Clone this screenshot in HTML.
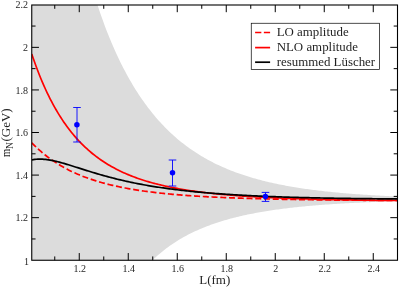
<!DOCTYPE html>
<html><head><meta charset="utf-8"><title>plot</title>
<style>
html,body{margin:0;padding:0;background:#fff}
svg{display:block}
text{font-family:"Liberation Serif",serif;fill:#000}
.t text{font-size:10px}
</style></head><body>
<svg width="399" height="287" viewBox="0 0 399 287">
<rect width="399" height="287" fill="#fff"/>
<defs><clipPath id="c"><rect x="31.75" y="5.0" width="365.75" height="255.25"/></clipPath></defs>
<g clip-path="url(#c)">
<path d="M31.75,-37.81 L33.28,-37.81 L34.81,-37.81 L36.34,-37.81 L37.87,-37.81 L39.40,-37.81 L40.93,-37.81 L42.46,-37.81 L43.99,-37.81 L45.52,-37.81 L47.05,-37.81 L48.58,-37.81 L50.11,-37.81 L51.64,-37.81 L53.17,-37.81 L54.71,-37.81 L56.24,-37.81 L57.77,-37.81 L59.30,-37.81 L60.83,-37.81 L62.36,-37.81 L63.89,-37.81 L65.42,-37.81 L66.95,-37.81 L68.48,-37.81 L70.01,-37.81 L71.54,-37.81 L73.07,-37.81 L74.60,-37.81 L76.13,-37.81 L77.66,-37.81 L79.19,-37.81 L80.72,-37.81 L82.25,-37.81 L83.78,-37.81 L85.31,-37.81 L86.84,-32.74 L88.37,-26.67 L89.90,-20.86 L91.43,-15.28 L92.96,-9.92 L94.49,-4.75 L96.02,0.23 L97.55,5.05 L99.08,9.70 L100.62,14.21 L102.15,18.58 L103.68,22.82 L105.21,26.93 L106.74,30.93 L108.27,34.81 L109.80,38.59 L111.33,42.27 L112.86,45.85 L114.39,49.33 L115.92,52.72 L117.45,56.03 L118.98,59.25 L120.51,62.40 L122.04,65.46 L123.57,68.45 L125.10,71.37 L126.63,74.21 L128.16,76.99 L129.69,79.70 L131.22,82.34 L132.75,84.92 L134.28,87.44 L135.81,89.90 L137.34,92.31 L138.87,94.65 L140.40,96.94 L141.93,99.18 L143.46,101.37 L144.99,103.50 L146.53,105.59 L148.06,107.63 L149.59,109.62 L151.12,111.56 L152.65,113.46 L154.18,115.32 L155.71,117.13 L157.24,118.91 L158.77,120.64 L160.30,122.33 L161.83,123.99 L163.36,125.61 L164.89,127.19 L166.42,128.73 L167.95,130.25 L169.48,131.72 L171.01,133.17 L172.54,134.58 L174.07,135.96 L175.60,137.31 L177.13,138.63 L178.66,139.92 L180.19,141.18 L181.72,142.41 L183.25,143.62 L184.78,144.80 L186.31,145.95 L187.84,147.08 L189.37,148.18 L190.90,149.26 L192.44,150.32 L193.97,151.35 L195.50,152.36 L197.03,153.35 L198.56,154.31 L200.09,155.26 L201.62,156.18 L203.15,157.08 L204.68,157.97 L206.21,158.83 L207.74,159.68 L209.27,160.51 L210.80,161.32 L212.33,162.11 L213.86,162.89 L215.39,163.65 L216.92,164.39 L218.45,165.12 L219.98,165.83 L221.51,166.53 L223.04,167.21 L224.57,167.87 L226.10,168.53 L227.63,169.17 L229.16,169.79 L230.69,170.40 L232.22,171.00 L233.75,171.59 L235.28,172.16 L236.81,172.72 L238.35,173.27 L239.88,173.81 L241.41,174.34 L242.94,174.85 L244.47,175.36 L246.00,175.85 L247.53,176.34 L249.06,176.81 L250.59,177.27 L252.12,177.73 L253.65,178.17 L255.18,178.61 L256.71,179.04 L258.24,179.45 L259.77,179.86 L261.30,180.26 L262.83,180.65 L264.36,181.04 L265.89,181.41 L267.42,181.78 L268.95,182.14 L270.48,182.50 L272.01,182.84 L273.54,183.18 L275.07,183.51 L276.60,183.84 L278.13,184.16 L279.66,184.47 L281.19,184.77 L282.72,185.07 L284.26,185.36 L285.79,185.65 L287.32,185.93 L288.85,186.21 L290.38,186.48 L291.91,186.74 L293.44,187.00 L294.97,187.25 L296.50,187.50 L298.03,187.75 L299.56,187.99 L301.09,188.22 L302.62,188.45 L304.15,188.67 L305.68,188.89 L307.21,189.11 L308.74,189.32 L310.27,189.53 L311.80,189.73 L313.33,189.93 L314.86,190.12 L316.39,190.31 L317.92,190.50 L319.45,190.68 L320.98,190.86 L322.51,191.04 L324.04,191.21 L325.57,191.38 L327.10,191.54 L328.63,191.71 L330.17,191.87 L331.70,192.02 L333.23,192.17 L334.76,192.32 L336.29,192.47 L337.82,192.61 L339.35,192.76 L340.88,192.89 L342.41,193.03 L343.94,193.16 L345.47,193.29 L347.00,193.42 L348.53,193.54 L350.06,193.67 L351.59,193.79 L353.12,193.91 L354.65,194.02 L356.18,194.13 L357.71,194.25 L359.24,194.35 L360.77,194.46 L362.30,194.57 L363.83,194.67 L365.36,194.77 L366.89,194.87 L368.42,194.96 L369.95,195.06 L371.48,195.15 L373.01,195.24 L374.54,195.33 L376.08,195.42 L377.61,195.51 L379.14,195.59 L380.67,195.67 L382.20,195.75 L383.73,195.83 L385.26,195.91 L386.79,195.99 L388.32,196.06 L389.85,196.14 L391.38,196.21 L392.91,196.28 L394.44,196.35 L395.97,196.42 L397.50,196.48 L397.50,201.23 L395.97,201.27 L394.44,201.32 L392.91,201.36 L391.38,201.41 L389.85,201.46 L388.32,201.50 L386.79,201.55 L385.26,201.60 L383.73,201.65 L382.20,201.71 L380.67,201.76 L379.14,201.81 L377.61,201.87 L376.08,201.92 L374.54,201.98 L373.01,202.04 L371.48,202.10 L369.95,202.16 L368.42,202.23 L366.89,202.29 L365.36,202.35 L363.83,202.42 L362.30,202.49 L360.77,202.56 L359.24,202.63 L357.71,202.70 L356.18,202.77 L354.65,202.85 L353.12,202.92 L351.59,203.00 L350.06,203.08 L348.53,203.16 L347.00,203.25 L345.47,203.33 L343.94,203.42 L342.41,203.51 L340.88,203.60 L339.35,203.69 L337.82,203.78 L336.29,203.88 L334.76,203.97 L333.23,204.07 L331.70,204.17 L330.17,204.28 L328.63,204.38 L327.10,204.49 L325.57,204.60 L324.04,204.71 L322.51,204.83 L320.98,204.95 L319.45,205.06 L317.92,205.19 L316.39,205.31 L314.86,205.44 L313.33,205.57 L311.80,205.70 L310.27,205.83 L308.74,205.97 L307.21,206.11 L305.68,206.25 L304.15,206.40 L302.62,206.55 L301.09,206.70 L299.56,206.86 L298.03,207.02 L296.50,207.18 L294.97,207.34 L293.44,207.51 L291.91,207.68 L290.38,207.86 L288.85,208.04 L287.32,208.22 L285.79,208.41 L284.26,208.60 L282.72,208.79 L281.19,208.99 L279.66,209.20 L278.13,209.40 L276.60,209.62 L275.07,209.83 L273.54,210.05 L272.01,210.28 L270.48,210.51 L268.95,210.74 L267.42,210.98 L265.89,211.23 L264.36,211.48 L262.83,211.74 L261.30,212.00 L259.77,212.26 L258.24,212.54 L256.71,212.82 L255.18,213.10 L253.65,213.39 L252.12,213.69 L250.59,213.99 L249.06,214.30 L247.53,214.62 L246.00,214.95 L244.47,215.28 L242.94,215.62 L241.41,215.96 L239.88,216.32 L238.35,216.68 L236.81,217.05 L235.28,217.43 L233.75,217.82 L232.22,218.22 L230.69,218.62 L229.16,219.04 L227.63,219.46 L226.10,219.89 L224.57,220.34 L223.04,220.79 L221.51,221.26 L219.98,221.73 L218.45,222.22 L216.92,222.72 L215.39,223.23 L213.86,223.75 L212.33,224.28 L210.80,224.83 L209.27,225.39 L207.74,225.97 L206.21,226.55 L204.68,227.16 L203.15,227.77 L201.62,228.41 L200.09,229.05 L198.56,229.72 L197.03,230.40 L195.50,231.09 L193.97,231.81 L192.44,232.54 L190.90,233.29 L189.37,234.06 L187.84,234.85 L186.31,235.66 L184.78,236.49 L183.25,237.34 L181.72,238.22 L180.19,239.11 L178.66,240.03 L177.13,240.98 L175.60,241.94 L174.07,242.94 L172.54,243.96 L171.01,245.01 L169.48,246.08 L167.95,247.19 L166.42,248.32 L164.89,249.49 L163.36,250.68 L161.83,251.91 L160.30,253.18 L158.77,254.48 L157.24,255.81 L155.71,257.18 L154.18,258.59 L152.65,260.04 L151.12,261.53 L149.59,263.06 L148.06,264.64 L146.53,266.26 L144.99,267.93 L143.46,269.64 L141.93,271.41 L140.40,273.22 L138.87,275.09 L137.34,277.01 L135.81,278.99 L134.28,281.03 L132.75,281.54 L131.22,281.54 L129.69,281.54 L128.16,281.54 L126.63,281.54 L125.10,281.54 L123.57,281.54 L122.04,281.54 L120.51,281.54 L118.98,281.54 L117.45,281.54 L115.92,281.54 L114.39,281.54 L112.86,281.54 L111.33,281.54 L109.80,281.54 L108.27,281.54 L106.74,281.54 L105.21,281.54 L103.68,281.54 L102.15,281.54 L100.62,281.54 L99.08,281.54 L97.55,281.54 L96.02,281.54 L94.49,281.54 L92.96,281.54 L91.43,281.54 L89.90,281.54 L88.37,281.54 L86.84,281.54 L85.31,281.54 L83.78,281.54 L82.25,281.54 L80.72,281.54 L79.19,281.54 L77.66,281.54 L76.13,281.54 L74.60,281.54 L73.07,281.54 L71.54,281.54 L70.01,281.54 L68.48,281.54 L66.95,281.54 L65.42,281.54 L63.89,281.54 L62.36,281.54 L60.83,281.54 L59.30,281.54 L57.77,281.54 L56.24,281.54 L54.71,281.54 L53.17,281.54 L51.64,281.54 L50.11,281.54 L48.58,281.54 L47.05,281.54 L45.52,281.54 L43.99,281.54 L42.46,281.54 L40.93,281.54 L39.40,281.54 L37.87,281.54 L36.34,281.54 L34.81,281.54 L33.28,281.54 L31.75,281.54Z" fill="#dcdcdc"/>
<path d="M31.75,142.75 L33.28,144.32 L34.81,145.84 L36.34,147.32 L37.87,148.75 L39.40,150.13 L40.93,151.48 L42.46,152.78 L43.99,154.04 L45.52,155.27 L47.05,156.46 L48.58,157.61 L50.11,158.73 L51.64,159.82 L53.17,160.88 L54.71,161.90 L56.24,162.89 L57.77,163.86 L59.30,164.80 L60.83,165.71 L62.36,166.60 L63.89,167.46 L65.42,168.29 L66.95,169.10 L68.48,169.89 L70.01,170.66 L71.54,171.40 L73.07,172.13 L74.60,172.83 L76.13,173.52 L77.66,174.18 L79.19,174.83 L80.72,175.46 L82.25,176.08 L83.78,176.67 L85.31,177.25 L86.84,177.82 L88.37,178.37 L89.90,178.90 L91.43,179.42 L92.96,179.93 L94.49,180.42 L96.02,180.90 L97.55,181.37 L99.08,181.82 L100.62,182.27 L102.15,182.70 L103.68,183.12 L105.21,183.53 L106.74,183.93 L108.27,184.32 L109.80,184.70 L111.33,185.07 L112.86,185.43 L114.39,185.78 L115.92,186.12 L117.45,186.45 L118.98,186.78 L120.51,187.09 L122.04,187.40 L123.57,187.70 L125.10,188.00 L126.63,188.28 L128.16,188.56 L129.69,188.84 L131.22,189.10 L132.75,189.36 L134.28,189.61 L135.81,189.86 L137.34,190.10 L138.87,190.34 L140.40,190.57 L141.93,190.79 L143.46,191.01 L144.99,191.22 L146.53,191.43 L148.06,191.63 L149.59,191.83 L151.12,192.02 L152.65,192.21 L154.18,192.40 L155.71,192.58 L157.24,192.75 L158.77,192.93 L160.30,193.09 L161.83,193.26 L163.36,193.42 L164.89,193.57 L166.42,193.73 L167.95,193.88 L169.48,194.02 L171.01,194.17 L172.54,194.30 L174.07,194.44 L175.60,194.57 L177.13,194.70 L178.66,194.83 L180.19,194.96 L181.72,195.08 L183.25,195.20 L184.78,195.31 L186.31,195.43 L187.84,195.54 L189.37,195.65 L190.90,195.75 L192.44,195.86 L193.97,195.96 L195.50,196.06 L197.03,196.15 L198.56,196.25 L200.09,196.34 L201.62,196.43 L203.15,196.52 L204.68,196.61 L206.21,196.69 L207.74,196.78 L209.27,196.86 L210.80,196.94 L212.33,197.01 L213.86,197.09 L215.39,197.17 L216.92,197.24 L218.45,197.31 L219.98,197.38 L221.51,197.45 L223.04,197.52 L224.57,197.58 L226.10,197.65 L227.63,197.71 L229.16,197.77 L230.69,197.83 L232.22,197.89 L233.75,197.95 L235.28,198.00 L236.81,198.06 L238.35,198.11 L239.88,198.17 L241.41,198.22 L242.94,198.27 L244.47,198.32 L246.00,198.37 L247.53,198.42 L249.06,198.46 L250.59,198.51 L252.12,198.55 L253.65,198.60 L255.18,198.64 L256.71,198.68 L258.24,198.73 L259.77,198.77 L261.30,198.81 L262.83,198.85 L264.36,198.88 L265.89,198.92 L267.42,198.96 L268.95,198.99 L270.48,199.03 L272.01,199.06 L273.54,199.10 L275.07,199.13 L276.60,199.16 L278.13,199.20 L279.66,199.23 L281.19,199.26 L282.72,199.29 L284.26,199.32 L285.79,199.35 L287.32,199.37 L288.85,199.40 L290.38,199.43 L291.91,199.46 L293.44,199.48 L294.97,199.51 L296.50,199.53 L298.03,199.56 L299.56,199.58 L301.09,199.61 L302.62,199.63 L304.15,199.65 L305.68,199.67 L307.21,199.70 L308.74,199.72 L310.27,199.74 L311.80,199.76 L313.33,199.78 L314.86,199.80 L316.39,199.82 L317.92,199.84 L319.45,199.86 L320.98,199.88 L322.51,199.89 L324.04,199.91 L325.57,199.93 L327.10,199.95 L328.63,199.96 L330.17,199.98 L331.70,200.00 L333.23,200.01 L334.76,200.03 L336.29,200.04 L337.82,200.06 L339.35,200.07 L340.88,200.09 L342.41,200.10 L343.94,200.12 L345.47,200.13 L347.00,200.14 L348.53,200.16 L350.06,200.17 L351.59,200.18 L353.12,200.19 L354.65,200.21 L356.18,200.22 L357.71,200.23 L359.24,200.24 L360.77,200.25 L362.30,200.26 L363.83,200.28 L365.36,200.29 L366.89,200.30 L368.42,200.31 L369.95,200.32 L371.48,200.33 L373.01,200.34 L374.54,200.35 L376.08,200.36 L377.61,200.37 L379.14,200.38 L380.67,200.38 L382.20,200.39 L383.73,200.40 L385.26,200.41 L386.79,200.42 L388.32,200.43 L389.85,200.43 L391.38,200.44 L392.91,200.45 L394.44,200.46 L395.97,200.47 L397.50,200.47" fill="none" stroke="#f00" stroke-width="1.7" stroke-dasharray="6 2.75"/>
<path d="M31.75,53.95 L33.28,58.46 L34.81,62.80 L36.34,67.00 L37.87,71.04 L39.40,74.95 L40.93,78.72 L42.46,82.36 L43.99,85.87 L45.52,89.27 L47.05,92.54 L48.58,95.71 L50.11,98.77 L51.64,101.73 L53.17,104.59 L54.71,107.36 L56.24,110.03 L57.77,112.62 L59.30,115.12 L60.83,117.54 L62.36,119.88 L63.89,122.15 L65.42,124.34 L66.95,126.47 L68.48,128.52 L70.01,130.52 L71.54,132.45 L73.07,134.31 L74.60,136.12 L76.13,137.88 L77.66,139.58 L79.19,141.22 L80.72,142.82 L82.25,144.37 L83.78,145.87 L85.31,147.33 L86.84,148.74 L88.37,150.11 L89.90,151.44 L91.43,152.73 L92.96,153.98 L94.49,155.19 L96.02,156.37 L97.55,157.51 L99.08,158.62 L100.62,159.70 L102.15,160.75 L103.68,161.77 L105.21,162.76 L106.74,163.72 L108.27,164.65 L109.80,165.55 L111.33,166.43 L112.86,167.29 L114.39,168.12 L115.92,168.93 L117.45,169.72 L118.98,170.48 L120.51,171.23 L122.04,171.95 L123.57,172.65 L125.10,173.34 L126.63,174.00 L128.16,174.65 L129.69,175.28 L131.22,175.89 L132.75,176.49 L134.28,177.07 L135.81,177.64 L137.34,178.19 L138.87,178.72 L140.40,179.25 L141.93,179.76 L143.46,180.25 L144.99,180.73 L146.53,181.20 L148.06,181.66 L149.59,182.11 L151.12,182.54 L152.65,182.96 L154.18,183.38 L155.71,183.78 L157.24,184.17 L158.77,184.55 L160.30,184.93 L161.83,185.29 L163.36,185.64 L164.89,185.99 L166.42,186.33 L167.95,186.65 L169.48,186.97 L171.01,187.29 L172.54,187.59 L174.07,187.89 L175.60,188.18 L177.13,188.46 L178.66,188.74 L180.19,189.01 L181.72,189.27 L183.25,189.53 L184.78,189.78 L186.31,190.02 L187.84,190.26 L189.37,190.50 L190.90,190.73 L192.44,190.95 L193.97,191.17 L195.50,191.38 L197.03,191.58 L198.56,191.79 L200.09,191.99 L201.62,192.18 L203.15,192.37 L204.68,192.55 L206.21,192.73 L207.74,192.91 L209.27,193.08 L210.80,193.25 L212.33,193.41 L213.86,193.57 L215.39,193.73 L216.92,193.88 L218.45,194.04 L219.98,194.18 L221.51,194.33 L223.04,194.47 L224.57,194.60 L226.10,194.74 L227.63,194.87 L229.16,195.00 L230.69,195.12 L232.22,195.25 L233.75,195.37 L235.28,195.48 L236.81,195.60 L238.35,195.71 L239.88,195.82 L241.41,195.93 L242.94,196.03 L244.47,196.14 L246.00,196.24 L247.53,196.34 L249.06,196.44 L250.59,196.53 L252.12,196.62 L253.65,196.71 L255.18,196.80 L256.71,196.89 L258.24,196.97 L259.77,197.06 L261.30,197.14 L262.83,197.22 L264.36,197.30 L265.89,197.38 L267.42,197.45 L268.95,197.52 L270.48,197.60 L272.01,197.67 L273.54,197.74 L275.07,197.80 L276.60,197.87 L278.13,197.94 L279.66,198.00 L281.19,198.06 L282.72,198.12 L284.26,198.18 L285.79,198.24 L287.32,198.30 L288.85,198.36 L290.38,198.41 L291.91,198.47 L293.44,198.52 L294.97,198.57 L296.50,198.62 L298.03,198.67 L299.56,198.72 L301.09,198.77 L302.62,198.82 L304.15,198.86 L305.68,198.91 L307.21,198.95 L308.74,199.00 L310.27,199.04 L311.80,199.08 L313.33,199.12 L314.86,199.16 L316.39,199.20 L317.92,199.24 L319.45,199.28 L320.98,199.32 L322.51,199.36 L324.04,199.39 L325.57,199.43 L327.10,199.46 L328.63,199.50 L330.17,199.53 L331.70,199.56 L333.23,199.59 L334.76,199.63 L336.29,199.66 L337.82,199.69 L339.35,199.72 L340.88,199.75 L342.41,199.78 L343.94,199.80 L345.47,199.83 L347.00,199.86 L348.53,199.89 L350.06,199.91 L351.59,199.94 L353.12,199.96 L354.65,199.99 L356.18,200.01 L357.71,200.04 L359.24,200.06 L360.77,200.08 L362.30,200.11 L363.83,200.13 L365.36,200.15 L366.89,200.17 L368.42,200.19 L369.95,200.21 L371.48,200.23 L373.01,200.25 L374.54,200.27 L376.08,200.29 L377.61,200.31 L379.14,200.33 L380.67,200.35 L382.20,200.37 L383.73,200.38 L385.26,200.40 L386.79,200.42 L388.32,200.44 L389.85,200.45 L391.38,200.47 L392.91,200.48 L394.44,200.50 L395.97,200.52 L397.50,200.53" fill="none" stroke="#f00" stroke-width="1.7"/>
<path d="M31.75,159.99 L33.28,159.67 L34.81,159.43 L36.34,159.26 L37.87,159.15 L39.40,159.10 L40.93,159.11 L42.46,159.17 L43.99,159.28 L45.52,159.43 L47.05,159.62 L48.58,159.84 L50.11,160.10 L51.64,160.39 L53.17,160.70 L54.71,161.04 L56.24,161.40 L57.77,161.77 L59.30,162.17 L60.83,162.58 L62.36,163.01 L63.89,163.44 L65.42,163.89 L66.95,164.35 L68.48,164.81 L70.01,165.28 L71.54,165.75 L73.07,166.23 L74.60,166.71 L76.13,167.20 L77.66,167.68 L79.19,168.17 L80.72,168.65 L82.25,169.14 L83.78,169.62 L85.31,170.10 L86.84,170.58 L88.37,171.06 L89.90,171.53 L91.43,172.00 L92.96,172.46 L94.49,172.92 L96.02,173.38 L97.55,173.83 L99.08,174.28 L100.62,174.72 L102.15,175.15 L103.68,175.58 L105.21,176.01 L106.74,176.43 L108.27,176.84 L109.80,177.25 L111.33,177.65 L112.86,178.05 L114.39,178.44 L115.92,178.82 L117.45,179.20 L118.98,179.57 L120.51,179.93 L122.04,180.29 L123.57,180.65 L125.10,181.00 L126.63,181.34 L128.16,181.67 L129.69,182.01 L131.22,182.33 L132.75,182.65 L134.28,182.96 L135.81,183.27 L137.34,183.57 L138.87,183.87 L140.40,184.16 L141.93,184.45 L143.46,184.73 L144.99,185.01 L146.53,185.28 L148.06,185.55 L149.59,185.81 L151.12,186.07 L152.65,186.32 L154.18,186.57 L155.71,186.81 L157.24,187.05 L158.77,187.28 L160.30,187.51 L161.83,187.74 L163.36,187.96 L164.89,188.18 L166.42,188.39 L167.95,188.60 L169.48,188.81 L171.01,189.01 L172.54,189.21 L174.07,189.40 L175.60,189.60 L177.13,189.78 L178.66,189.97 L180.19,190.15 L181.72,190.33 L183.25,190.50 L184.78,190.67 L186.31,190.84 L187.84,191.00 L189.37,191.16 L190.90,191.32 L192.44,191.48 L193.97,191.63 L195.50,191.78 L197.03,191.93 L198.56,192.07 L200.09,192.21 L201.62,192.35 L203.15,192.49 L204.68,192.62 L206.21,192.76 L207.74,192.88 L209.27,193.01 L210.80,193.14 L212.33,193.26 L213.86,193.38 L215.39,193.50 L216.92,193.61 L218.45,193.72 L219.98,193.84 L221.51,193.95 L223.04,194.05 L224.57,194.16 L226.10,194.26 L227.63,194.36 L229.16,194.46 L230.69,194.56 L232.22,194.66 L233.75,194.75 L235.28,194.84 L236.81,194.93 L238.35,195.02 L239.88,195.11 L241.41,195.19 L242.94,195.28 L244.47,195.36 L246.00,195.44 L247.53,195.52 L249.06,195.60 L250.59,195.68 L252.12,195.75 L253.65,195.82 L255.18,195.90 L256.71,195.97 L258.24,196.04 L259.77,196.10 L261.30,196.17 L262.83,196.24 L264.36,196.30 L265.89,196.36 L267.42,196.43 L268.95,196.49 L270.48,196.55 L272.01,196.61 L273.54,196.66 L275.07,196.72 L276.60,196.77 L278.13,196.83 L279.66,196.88 L281.19,196.93 L282.72,196.99 L284.26,197.04 L285.79,197.08 L287.32,197.13 L288.85,197.18 L290.38,197.23 L291.91,197.27 L293.44,197.32 L294.97,197.36 L296.50,197.40 L298.03,197.45 L299.56,197.49 L301.09,197.53 L302.62,197.57 L304.15,197.61 L305.68,197.64 L307.21,197.68 L308.74,197.72 L310.27,197.75 L311.80,197.79 L313.33,197.82 L314.86,197.86 L316.39,197.89 L317.92,197.92 L319.45,197.95 L320.98,197.98 L322.51,198.01 L324.04,198.04 L325.57,198.07 L327.10,198.10 L328.63,198.13 L330.17,198.16 L331.70,198.18 L333.23,198.21 L334.76,198.24 L336.29,198.26 L337.82,198.29 L339.35,198.31 L340.88,198.34 L342.41,198.36 L343.94,198.38 L345.47,198.40 L347.00,198.43 L348.53,198.45 L350.06,198.47 L351.59,198.49 L353.12,198.51 L354.65,198.53 L356.18,198.55 L357.71,198.57 L359.24,198.58 L360.77,198.60 L362.30,198.62 L363.83,198.64 L365.36,198.65 L366.89,198.67 L368.42,198.69 L369.95,198.70 L371.48,198.72 L373.01,198.73 L374.54,198.75 L376.08,198.76 L377.61,198.78 L379.14,198.79 L380.67,198.80 L382.20,198.82 L383.73,198.83 L385.26,198.84 L386.79,198.86 L388.32,198.87 L389.85,198.88 L391.38,198.89 L392.91,198.90 L394.44,198.91 L395.97,198.93 L397.50,198.94" fill="none" stroke="#000" stroke-width="1.7"/>
<path d="M77.00,107.50 V142.00 M73.20,107.50 h7.6 M73.20,142.00 h7.6" stroke="#00f" stroke-width="0.9" fill="none"/><circle cx="76.90" cy="124.75" r="2.75" fill="#00f"/><path d="M172.50,160.00 V186.00 M168.70,160.00 h7.6 M168.70,186.00 h7.6" stroke="#00f" stroke-width="0.9" fill="none"/><circle cx="172.50" cy="172.75" r="2.75" fill="#00f"/><path d="M265.50,192.40 V201.40 M261.70,192.40 h7.6 M261.70,201.40 h7.6" stroke="#00f" stroke-width="0.9" fill="none"/><circle cx="265.40" cy="196.50" r="2.75" fill="#00f"/>
</g>
<path d="M54.75,260.25 v-3.8 M54.75,5.0 v3.8 M79.25,260.25 v-7.2 M79.25,5.0 v7.2 M103.75,260.25 v-3.8 M103.75,5.0 v3.8 M128.25,260.25 v-7.2 M128.25,5.0 v7.2 M152.75,260.25 v-3.8 M152.75,5.0 v3.8 M177.25,260.25 v-7.2 M177.25,5.0 v7.2 M201.75,260.25 v-3.8 M201.75,5.0 v3.8 M226.25,260.25 v-7.2 M226.25,5.0 v7.2 M250.75,260.25 v-3.8 M250.75,5.0 v3.8 M275.25,260.25 v-7.2 M275.25,5.0 v7.2 M299.75,260.25 v-3.8 M299.75,5.0 v3.8 M324.25,260.25 v-7.2 M324.25,5.0 v7.2 M348.75,260.25 v-3.8 M348.75,5.0 v3.8 M373.25,260.25 v-7.2 M373.25,5.0 v7.2 M31.75,238.96 h3.8 M397.5,238.96 h-3.8 M31.75,217.67 h7.2 M397.5,217.67 h-7.2 M31.75,196.38 h3.8 M397.5,196.38 h-3.8 M31.75,175.09 h7.2 M397.5,175.09 h-7.2 M31.75,153.80 h3.8 M397.5,153.80 h-3.8 M31.75,132.51 h7.2 M397.5,132.51 h-7.2 M31.75,111.22 h3.8 M397.5,111.22 h-3.8 M31.75,89.93 h7.2 M397.5,89.93 h-7.2 M31.75,68.64 h3.8 M397.5,68.64 h-3.8 M31.75,47.35 h7.2 M397.5,47.35 h-7.2 M31.75,26.06 h3.8 M397.5,26.06 h-3.8" stroke="#000" stroke-width="1" fill="none"/>
<rect x="31.75" y="5.0" width="365.75" height="255.25" fill="none" stroke="#000" stroke-width="1.1"/>
<g style="filter:grayscale(1)" fill-opacity="0.88">
<g class="t" text-anchor="middle"><text x="79.85" y="272">1.2</text><text x="128.85" y="272">1.4</text><text x="177.85" y="272">1.6</text><text x="226.85" y="272">1.8</text><text x="275.85" y="272">2</text><text x="324.85" y="272">2.2</text><text x="373.85" y="272">2.4</text></g>
<g class="t" text-anchor="end"><text x="29" y="264.75">1</text><text x="28" y="221.27">1.2</text><text x="28" y="178.69">1.4</text><text x="28" y="136.11">1.6</text><text x="28" y="93.53">1.8</text><text x="28" y="50.95">2</text><text x="28" y="8.37">2.2</text></g>
<text x="214.8" y="284.4" font-size="13" text-anchor="middle">L(fm)</text>
<g transform="translate(9.65,157.1) rotate(-90)" font-size="13"><text x="0" y="0" textLength="8.2" lengthAdjust="spacingAndGlyphs">m</text><text x="8.2" y="3" font-size="9.5">N</text><text x="15.6" y="0">(GeV)</text></g>
</g>
<rect x="251.25" y="23.25" width="128.1" height="46.1" fill="#fff" stroke="#000" stroke-width="0.7"/>
<path d="M255.1,32.5 h15" stroke="#f00" stroke-width="1.7" stroke-dasharray="6.25 2.5" fill="none"/>
<path d="M255.1,47.6 h15" stroke="#f00" stroke-width="1.7" fill="none"/>
<path d="M255.1,62.2 h15" stroke="#000" stroke-width="1.7" fill="none"/>
<g font-size="12.9" style="filter:grayscale(1)" fill-opacity="0.88"><text x="276.7" y="35.8">LO amplitude</text><text x="276.7" y="51">NLO amplitude</text><text x="276.7" y="65.6">resummed Lüscher</text></g>
</svg>
</body></html>
